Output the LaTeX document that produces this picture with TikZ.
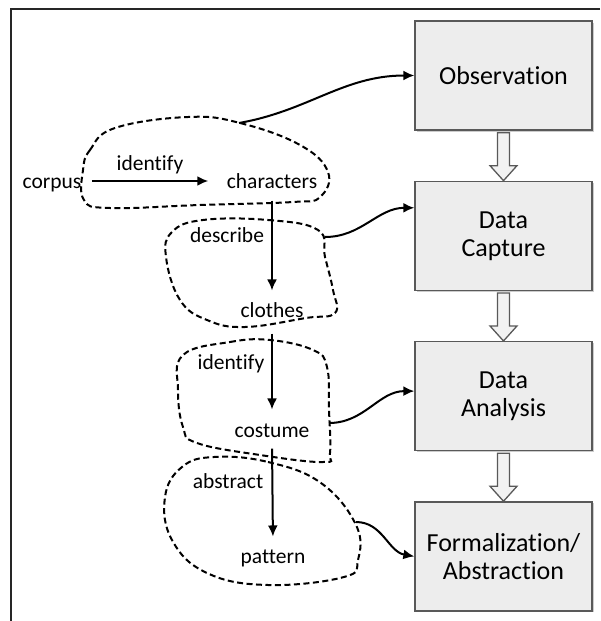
\documentclass[tikz,border=0pt]{standalone}
\usepackage{fontspec}
\setmainfont{Carlito}[Ligatures={NoCommon}]
\usetikzlibrary{arrows.meta,calc,positioning,shadows}

\begin{document}
\begin{tikzpicture}[x=1pt,y=-1pt]
	\tikzstyle{every node}=[font=\fontsize{21.5}{24}\selectfont]
	\tikzstyle{word}=[text height=14pt, text depth=4pt]
	\tikzstyle{stage}=[draw=black!65, fill=black!7, line width=1.3pt, minimum width=177pt, minimum height=109pt, align=center, font=\fontsize{26}{28}\selectfont, drop shadow={shadow xshift=1.5pt, shadow yshift=-1.5pt, opacity=0.4}]
	\tikzstyle{flow}=[line width=2pt, -{Latex[length=11pt,width=10pt]}]
	\tikzstyle{blob}=[line width=2pt, dash pattern=on 6pt off 3.5pt]
	\tikzstyle{hollow}=[draw=black!65, fill=black!5, line width=1.3pt]
	\useasboundingbox (0,0) rectangle (600,621);
	\draw [line width=2pt, black!85] (600,9) -- (11,9) -- (11,621);
	% stages on the right
	\node [stage] (obs) at (503.5,75.5) {Observation};
	\node [stage, below=50pt of obs] (cap) {Data\\Capture};
	\node [stage, below=50pt of cap] (ana) {Data\\Analysis};
	\node [stage, below=50pt of ana] (form) {Formalization/\\Abstraction};
	\foreach \a/\b in {obs/cap,cap/ana,ana/form}
		\draw [hollow] ($(\a.south)+(-6,2)$) -- ($(\a.south)+(6,2)$) -- ($(\b.north)+(6,-15)$) -- ($(\b.north)+(13.5,-15)$) -- (\b.north) -- ($(\b.north)+(-13.5,-15)$) -- ($(\b.north)+(-6,-15)$) -- cycle;
	% words and steps
	\node [word] (corpus) at (52,183) {corpus};
	\node [word] (ident1) at (150,165) {identify};
	\node [word] (chars) at (272,183) {characters};
	\node [word] (descr) at (227,237) {describe};
	\node [word] (clothes) at (272,312) {clothes};
	\node [word] (ident2) at (231,364) {identify};
	\node [word] (costume) at (272,432) {costume};
	\node [word] (abstr) at (228,483) {abstract};
	\node [word] (pattern) at (273,558) {pattern};
	\draw [flow, shorten <=7pt, shorten >=15pt] ([yshift=2pt]corpus.east) -- ([yshift=2pt]chars.west);
	\draw [flow, shorten <=5pt, shorten >=9pt] (chars.south) -- (clothes.north);
	\draw [flow, shorten <=9pt, shorten >=10pt] (clothes.south) -- (costume.north);
	\draw [flow, shorten <=4pt, shorten >=9pt] (costume.south) -- (pattern.north);
	% dashed groups
	\draw [blob] plot [smooth cycle, tension=0.7] coordinates {(83,170) (90,150) (115,128) (188,117) (240,123) (300,145) (328,172) (320,197) (293,202) (200,205) (110,208) (84,200)};
	\draw [blob] plot [smooth cycle, tension=0.7] coordinates {(203,220) (268,220) (318,230) (325,257) (333,290) (335,313) (306,318) (245,327) (207,320) (180,300) (166,257) (172,232)};
	\draw [blob] plot [smooth cycle, tension=0.7] coordinates {(183,355) (230,342) (270,340) (313,350) (327,367) (329,410) (330,453) (323,462) (260,455) (197,443) (183,427) (178,390)};
	\draw [blob] plot [smooth cycle, tension=0.7] coordinates {(214,457) (268,462) (321,483) (356,525) (358,560) (344,577) (268,585) (207,573) (172,540) (165,497) (182,467)};
	\coordinate (g1) at (239,123);
	\coordinate (g2) at (325,237);
	\coordinate (g3) at (329,423);
	\coordinate (g4) at (356,522);
	% groups to stages
	\draw [flow] (g1) to [out=10, in=180] (obs.west);
	\draw [flow] (g2) to [out=0, in=180] ([yshift=28pt]cap.west);
	\draw [flow] (g3) to [out=0, in=180] ([yshift=5pt]ana.west);
	\draw [flow] (g4) to [out=0, in=170] (form.west);
\end{tikzpicture}
\end{document}
